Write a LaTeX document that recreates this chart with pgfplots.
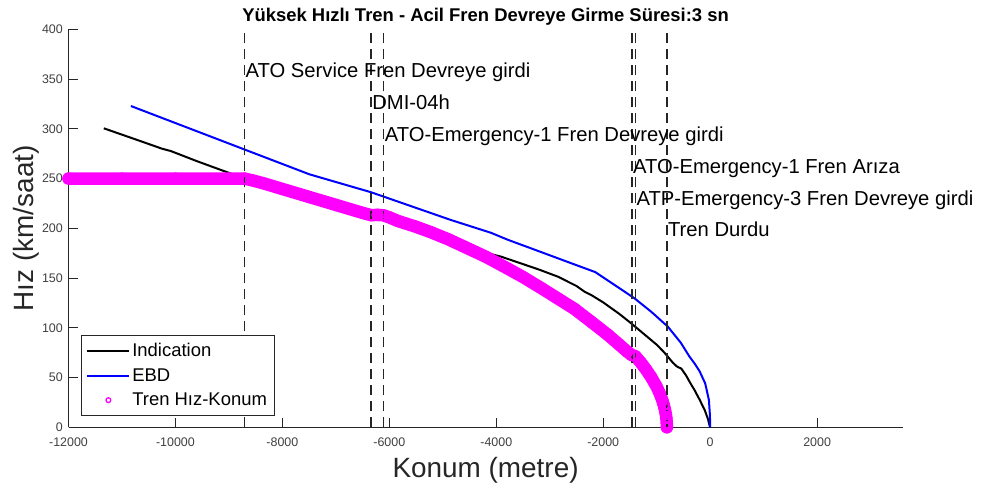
\documentclass[border=0pt]{standalone}
\usepackage{pgfplots}
\pgfplotsset{compat=1.18}
\usepackage{fontspec}
\setmainfont{Liberation Sans}
\definecolor{axgray}{gray}{0.15}
\definecolor{tickgray}{gray}{0.25}
\definecolor{mag}{rgb}{1,0,1}
\definecolor{pureblue}{rgb}{0,0,1}
\newcommand\annfont{\fontsize{20.3}{24}\selectfont}
\begin{document}
\begin{tikzpicture}
\path[use as bounding box] (0bp,0bp) rectangle (984bp,490bp);
\begin{axis}[
  at={(68.5bp,62.7bp)}, anchor=south west,
  scale only axis, width=834.2bp, height=398bp,
  xmin=-12000, xmax=3600, ymin=0, ymax=400,
  axis x line*=bottom, axis y line*=left,
  axis line style={axgray, line width=0.8bp, -},
  scaled x ticks=false, scaled y ticks=false,
  xtick={-12000,-10000,-8000,-6000,-4000,-2000,0,2000},
  xticklabels={-12000,-10000,-8000,-6000,-4000,-2000,0,2000},
  ytick={0,50,100,150,200,250,300,350,400},
  yticklabels={0,50,100,150,200,250,300,350,400},
  tick align=inside,
  major tick length=9bp,
  tick style={axgray, line width=0.8bp},
  ticklabel style={font=\fontsize{12.5}{14}\selectfont, text=tickgray},
  xticklabel style={inner sep=0pt, anchor=north, yshift=-10bp},
  yticklabel style={inner sep=0pt, anchor=east, xshift=-5.5bp},
  clip=false,
  legend image code/.code={\draw[#1] (0bp,0bp) -- (42bp,0bp);},
  legend cell align=left,
  legend style={at={(0.0146,0.031)}, anchor=south west, draw=axgray, fill=white,
    font=\fontsize{18.5}{21}\selectfont, inner xsep=5.5bp, inner ysep=5.5bp, row sep=6.5bp},
]
\addplot[black, line width=2bp] coordinates {
(-11340,300.5) (-10700,288.5) (-10250,280) (-10084,277.6) (-9600,267.5) (-9117,258)
(-8700,250) (-8300,243) (-8000,238) (-7500,231) (-7000,223) (-6500,215.5) (-6340,213.5)
(-6105,212) (-5800,206) (-5400,199) (-5000,191) (-4600,182.5) (-4200,175.5) (-3910,171.5)
(-3500,164) (-3200,158.5) (-2849,151.4) (-2500,142) (-2350,136.3) (-2226,133) (-2000,125.5)
(-1700,114) (-1478,104.5) (-1200,92) (-1000,83) (-855,75) (-700,65) (-620,61) (-540,59)
(-450,52) (-369,44.2) (-294,37.5) (-200,28) (-100,17) (-40,8) (-13,2) (0,0)};
\addlegendentry{Indication}
\addplot[pureblue, line width=2bp] coordinates {
(-10833,322.9) (-9000,285.2) (-7497,254.3) (-6340,236.2) (-5500,220.5) (-4846,208.3)
(-4100,195.5) (-3786,188.5) (-3287,178.6) (-2700,166.9) (-2150,156) (-1800,143.5)
(-1415,129.6) (-1100,116) (-791,101.1) (-550,85) (-387,71) (-294,64.3) (-200,56.5)
(-94,44.2) (-24,27.4) (-5,12) (0,0)};
\addlegendentry{EBD}
\addplot[mag, line width=12.5bp, line join=round, line cap=round,
  mark=o, mark size=5.5bp, mark options={line width=1.5bp, solid}, forget plot] coordinates {
(-12000,250) (-11000,250) (-10000,250) (-9000,250) (-8710,250) (-8550,248) (-8340,245)
(-8000,239.5) (-7500,231.5) (-7000,223.5) (-6500,215.5) (-6340,213.2)
(-6220,213.5) (-6105,213) (-6000,211) (-5848,207.5) (-5500,201.5) (-5220,196) (-4900,189) (-4600,181.5)
(-4400,176.5) (-4200,171.5) (-3786,159.5) (-3500,151) (-3162,140) (-2850,129.5) (-2539,119)
(-2200,105) (-1915,93) (-1700,83) (-1550,76) (-1465,72.5) (-1400,71.5) (-1300,65.2)
(-1200,58.1) (-1100,50.1) (-1000,40.6) (-950,34.8) (-900,27.9) (-870,22.8) (-850,18.6)
(-830,13.2) (-820,9.3) (-812,4.2) (-810,0)};
\addlegendimage{legend image code/.code={\draw[mag, line width=1.3bp] (21bp,0bp) circle (2.4bp);}}
\addlegendentry{Tren Hız-Konum}
\addplot[black!85, line width=1.4bp, dash pattern=on 10bp off 6bp, forget plot] coordinates {(-8710,0) (-8710,400)};
\addplot[black!85, line width=1.4bp, dash pattern=on 10bp off 6bp, forget plot] coordinates {(-6340,0) (-6340,400)};
\addplot[black!85, line width=1.4bp, dash pattern=on 10bp off 6bp, forget plot] coordinates {(-6105,0) (-6105,400)};
\addplot[black!85, line width=1.4bp, dash pattern=on 10bp off 6bp, forget plot] coordinates {(-1465,0) (-1465,400)};
\addplot[black!85, line width=1.4bp, dash pattern=on 10bp off 6bp, forget plot] coordinates {(-1400,0) (-1400,400)};
\addplot[black!85, line width=1.4bp, dash pattern=on 10bp off 6bp, forget plot] coordinates {(-810,0) (-810,400)};
\node[anchor=base west, inner sep=0pt, xshift=1bp, font=\annfont] at (axis cs:-8710,351.8) {ATO Service Fren Devreye girdi};
\node[anchor=base west, inner sep=0pt, xshift=1bp, font=\annfont] at (axis cs:-6340,318.9) {DMI-04h};
\node[anchor=base west, inner sep=0pt, xshift=1bp, font=\annfont] at (axis cs:-6105,287) {ATO-Emergency-1 Fren Devreye girdi};
\node[anchor=base west, inner sep=0pt, xshift=1bp, font=\annfont] at (axis cs:-1465,254.6) {ATO-Emergency-1 Fren Arıza};
\node[anchor=base west, inner sep=0pt, xshift=1bp, font=\annfont] at (axis cs:-1400,223.4) {ATP-Emergency-3 Fren Devreye girdi};
\node[anchor=base west, inner sep=0pt, xshift=1bp, font=\annfont] at (axis cs:-810,191.6) {Tren Durdu};
\node[anchor=base, inner sep=0pt, font=\bfseries\fontsize{18.5}{20}\selectfont] at ([yshift=7.6bp]rel axis cs:0.5,1) {Yüksek Hızlı Tren - Acil Fren Devreye Girme Süresi:3 sn};
\node[anchor=base, inner sep=0pt, text=axgray, font=\fontsize{28}{32}\selectfont] at ([yshift=-49.7bp]rel axis cs:0.5,0) {Konum (metre)};
\node[anchor=base, rotate=90, inner sep=0pt, text=axgray, font=\fontsize{28}{32}\selectfont] at ([xshift=-35.2bp]rel axis cs:0,0.5) {Hız (km/saat)};
\end{axis}
\end{tikzpicture}
\end{document}
